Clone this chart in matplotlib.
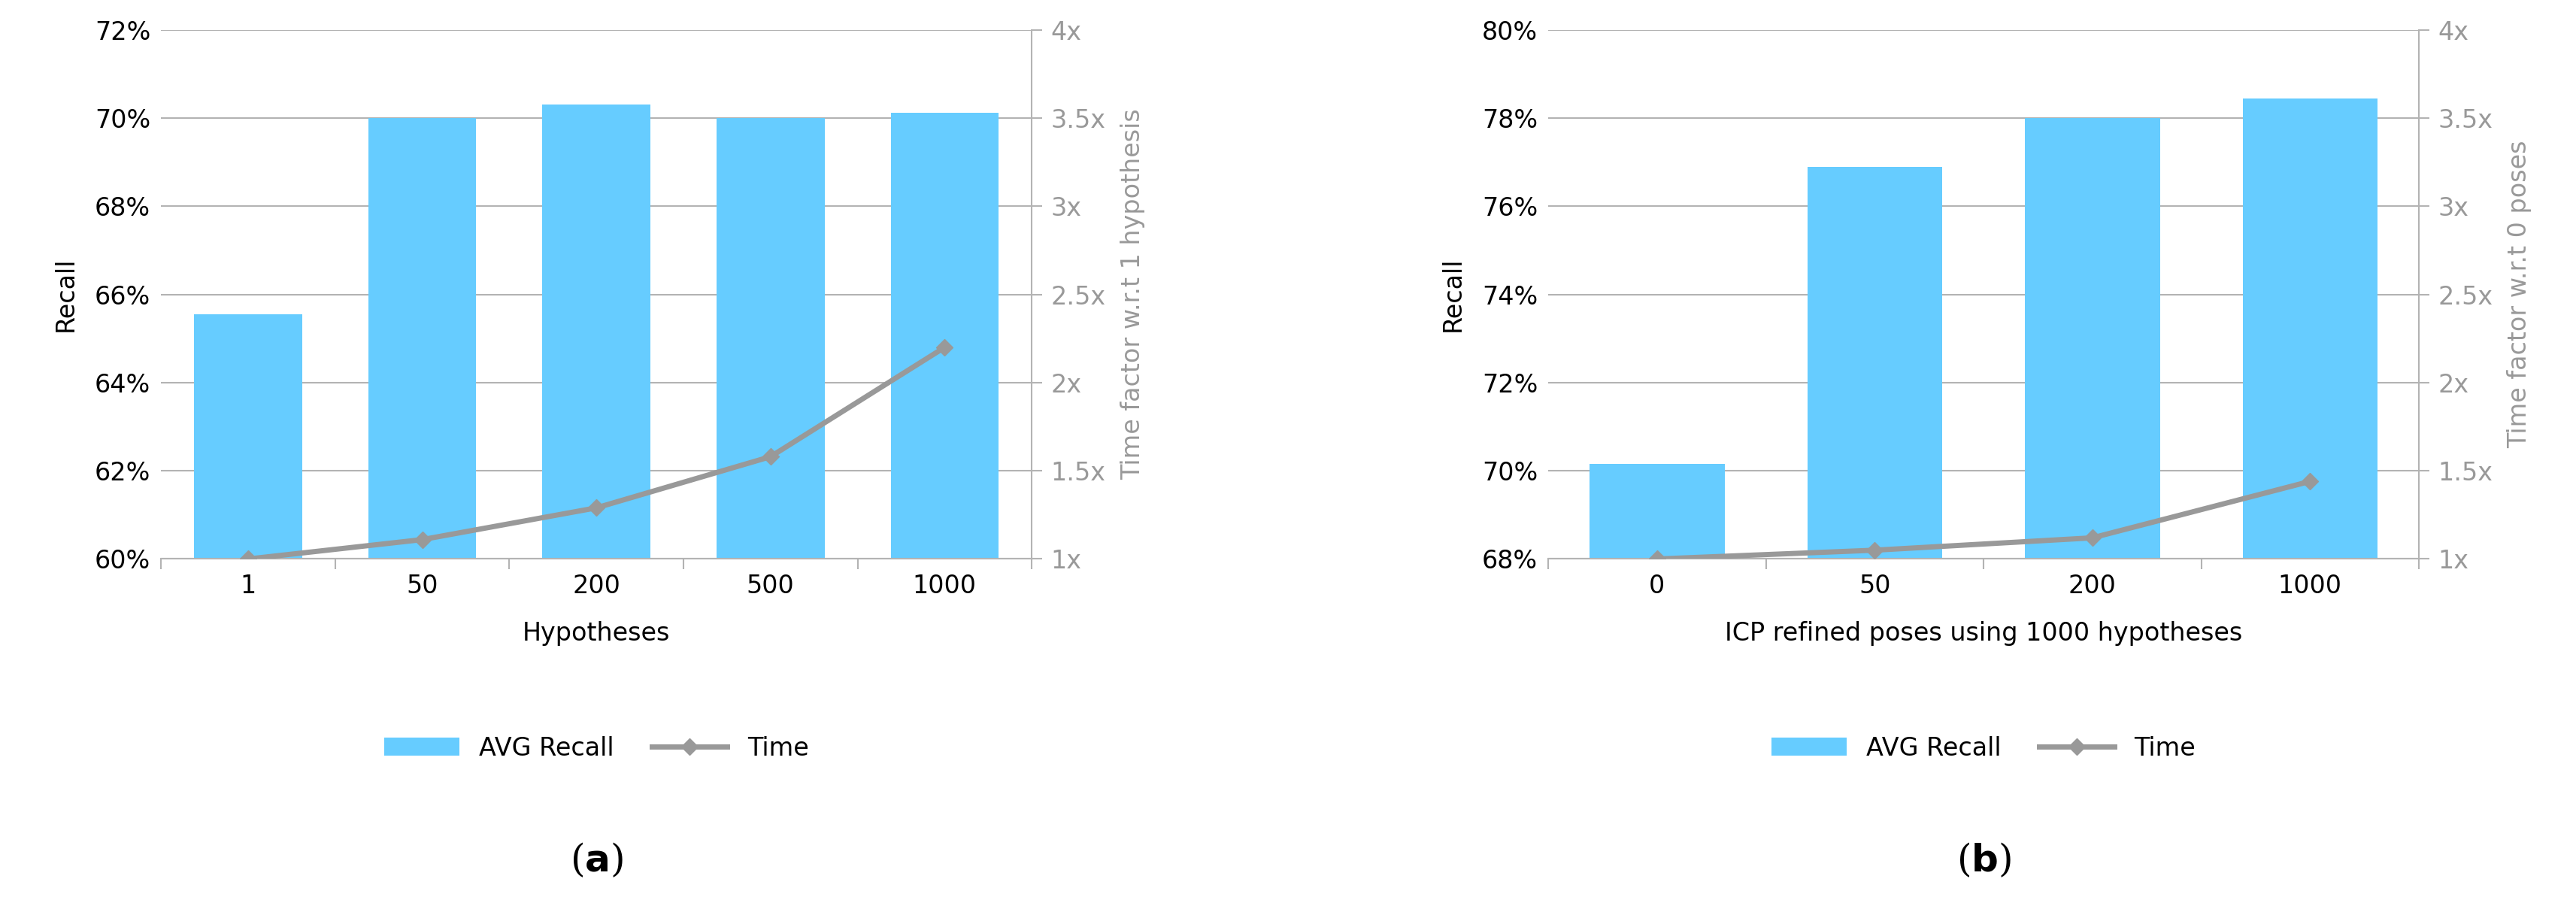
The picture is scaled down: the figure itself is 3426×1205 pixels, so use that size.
import matplotlib
matplotlib.use("Agg")
import matplotlib.pyplot as plt
import numpy as np

cats_a = ["1", "50", "200", "500", "1000"]
recall_a = [65.55, 70.0, 70.3, 70.0, 70.12]
time_a = [1.0, 1.11, 1.29, 1.58, 2.2]
cats_b = ["0", "50", "200", "1000"]
recall_b = [70.15, 76.9, 78.0, 78.45]
time_b = [1.0, 1.05, 1.12, 1.44]

BAR = "#66CCFF"
LINE = "#999999"
GRID = "#B3B3B3"
FS = 24

fig = plt.figure(figsize=(34.26, 12.05), dpi=100)

def panel(left, cats, recall, time, ylim, yticks, xlabel, ylabel2, tag):
    ax = fig.add_axes([left, 0.383, 0.338, 0.584])
    x = np.arange(len(cats))
    ax.bar(x, recall, width=0.62, color=BAR, zorder=2, label="AVG Recall")
    ax.set_ylim(*ylim)
    ax.set_yticks(yticks)
    ax.set_yticklabels([f"{v}%" for v in yticks], fontsize=FS)
    ax.set_xlim(-0.5, len(cats) - 0.5)
    ax.set_xticks(x)
    ax.set_xticklabels(cats, fontsize=FS)
    ax.set_xticks(np.arange(-0.5, len(cats)), minor=True)
    ax.tick_params(axis="x", which="major", length=0, pad=14)
    ax.tick_params(axis="x", which="minor", length=10, color=GRID, width=1.5)
    ax.tick_params(axis="y", length=0, pad=10)
    ax.grid(axis="y", color=GRID, lw=1.5, zorder=0)
    for s in ["top", "left", "right"]:
        ax.spines[s].set_visible(False)
    ax.spines["bottom"].set_color(GRID)
    ax.spines["bottom"].set_linewidth(1.5)
    ax.set_xlabel(xlabel, fontsize=FS, labelpad=22)
    ax.set_ylabel("Recall", fontsize=FS, labelpad=16)
    ax2 = ax.twinx()
    ax2.plot(x, time, color=LINE, lw=5, marker="D", ms=11, label="Time", zorder=3)
    ax2.set_ylim(1, 4)
    ax2.set_yticks([1, 1.5, 2, 2.5, 3, 3.5, 4])
    ax2.set_yticklabels(["1x", "1.5x", "2x", "2.5x", "3x", "3.5x", "4x"], fontsize=FS, color="#999999")
    ax2.tick_params(axis="y", length=10, color=GRID, width=1.5, pad=8)
    for s in ["top", "left", "bottom"]:
        ax2.spines[s].set_visible(False)
    ax2.spines["right"].set_color(GRID)
    ax2.spines["right"].set_linewidth(1.5)
    ax2.set_ylabel(ylabel2, fontsize=FS, color="#999999", labelpad=14)
    h1, l1 = ax.get_legend_handles_labels()
    h2, l2 = ax2.get_legend_handles_labels()
    fig.legend(h1 + h2, l1 + l2, loc="center", bbox_to_anchor=(left + 0.169, 0.174),
               ncol=2, frameon=False, fontsize=FS, handlelength=3, columnspacing=1.5)
    fig.text(left + 0.169, 0.05, tag, ha="center", va="center", fontsize=36, family="DejaVu Serif")

panel(0.0625, cats_a, recall_a, time_a, (60, 72), [60, 62, 64, 66, 68, 70, 72],
      "Hypotheses", "Time factor w.r.t 1 hypothesis", r"($\mathbf{a}$)")
panel(0.601, cats_b, recall_b, time_b, (68, 80), [68, 70, 72, 74, 76, 78, 80],
      "ICP refined poses using 1000 hypotheses", "Time factor w.r.t 0 poses", r"($\mathbf{b}$)")

fig.savefig("out.png", dpi=100)
